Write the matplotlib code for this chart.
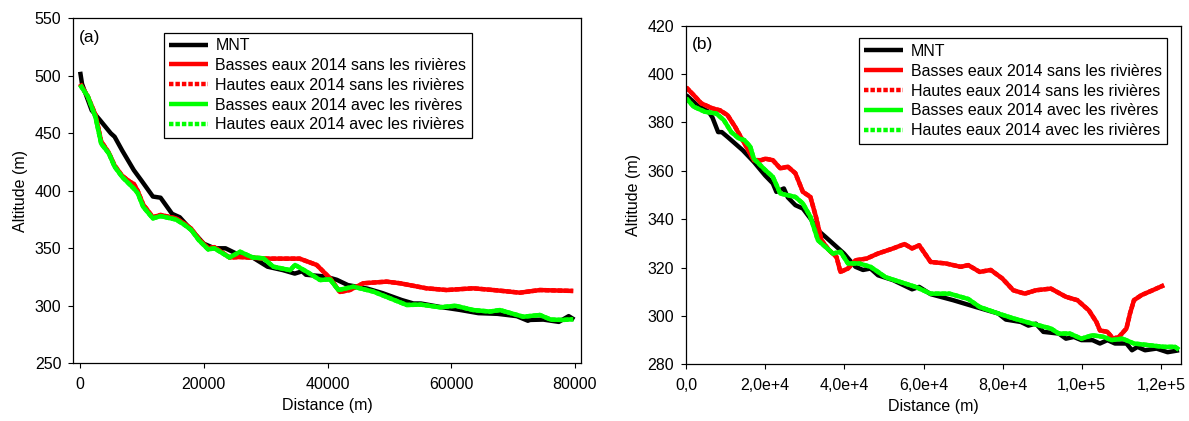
import matplotlib
matplotlib.use("Agg")
import matplotlib.pyplot as plt
from matplotlib.ticker import FixedLocator, FixedFormatter

plt.rcParams['font.family'] = ['Liberation Sans', 'DejaVu Sans']
plt.rcParams['font.size'] = 11.5

# ---------------- Panel (a) data ----------------
a_mnt_x = [0, 300, 1860, 3200, 4950, 5570, 6800, 8670, 9900, 11760, 13000, 14860, 16100, 17960,
           20000, 21700, 23500, 25400, 27900, 30300, 32800, 34700, 35900, 36500, 39600, 41500,
           43300, 46400, 48900, 52000, 53900, 55100, 58200, 61300, 64400, 67500, 70600, 72400,
           72730, 74900, 77400, 79000, 79900]
a_mnt_y = [503.5, 493, 470, 461.5, 450, 447, 435, 418, 409, 395, 394, 380, 377, 366,
           354, 350, 350, 345, 342, 334, 331, 328, 330, 327, 325.5, 322.6,
           318, 315, 311, 305, 302, 302, 299, 296.5, 293.6, 293, 291, 287,
           287.7, 288, 286, 291, 288]

a_bs_x = [0, 1240, 2480, 3400, 4640, 5570, 6800, 8000, 8670, 9300, 10200, 11760, 13000, 15500,
          16700, 17960, 19200, 20700, 21700, 24150, 25860, 27200, 30300, 35500, 38250, 40400,
          42000, 43600, 45800, 49550, 51700, 56000, 59250, 63550, 66800, 71100, 74340, 79730]
a_bs_y = [493, 482, 466, 443, 433, 422, 413, 408, 406, 400, 388, 377, 379, 376,
          372, 367, 358, 350, 351, 342, 342.4, 342, 341, 341, 335.5, 324,
          312, 313.7, 319.6, 321, 319.6, 315.2, 313.7, 315.2, 313.7, 311.4, 313.7, 312.9]

a_hs_x = list(a_bs_x)
a_hs_y = list(a_bs_y)

a_ba_x = [0, 1240, 2480, 3400, 4640, 5570, 6800, 8670, 9300, 10200, 11760, 13000, 15500, 16700,
          17960, 19200, 20700, 21700, 24150, 25860, 27900, 29630, 31250, 33940, 34750, 36630,
          38790, 40400, 41750, 44190, 47420, 52800, 55100, 58190, 60700, 63570, 66250, 67880,
          71650, 74340, 76100, 78110, 79730]
a_ba_y = [492, 482, 464, 441, 432.5, 421, 412, 402, 398, 386, 376, 378, 375, 371,
          366, 357, 349, 350, 342, 347, 342, 341.3, 334, 331, 335.5, 329.7,
          322.4, 323, 313.7, 316.6, 312.3, 300.7, 301, 298.7, 300, 296.3, 295, 296.3,
          290.5, 292, 288, 287.7, 288.3]

a_ha_x = list(a_ba_x)
a_ha_y = list(a_ba_y)

# ---------------- Panel (b) data ----------------
b_mnt_x = [0, 2850, 5700, 6650, 8080, 9000, 10460, 14300, 17100, 20000, 21900, 22800, 24700,
           25700, 27600, 29500, 31400, 33300, 35200, 38000, 39900, 42800, 44700, 46600, 48500,
           52300, 57100, 58900, 61800, 67500, 73200, 78900, 80800, 84600, 86500, 88400, 90300,
           94200, 96000, 98000, 99900, 102700, 104600, 106500, 108400, 111300, 112700, 114100,
           116000, 118900, 121700, 124600]
b_mnt_y = [391.3, 387, 384.4, 382, 376, 376, 374, 368.5, 363.7, 358, 354.8, 351.3, 352.7,
           349, 345.8, 344.4, 340.3, 335.4, 332.7, 328.6, 325.8, 320.3, 319, 319.6, 316.8,
           314.8, 311, 312, 309, 306.5, 303.7, 301, 298.5, 297.5, 296, 296.8, 293.4,
           292.7, 290.6, 291.3, 290, 290, 288.6, 290, 288.6, 288.6, 285.8, 287.2,
           285.8, 286.5, 285, 285.8]

b_bs_x = [0, 1900, 3800, 6650, 8560, 10460, 12360, 13800, 15200, 17100, 19000, 20000, 21900,
          23800, 25700, 27600, 29500, 31400, 32800, 34200, 36100, 38000, 39000, 40900, 42800,
          45600, 48500, 52300, 55200, 57100, 58900, 61800, 65600, 69400, 71300, 74200, 77000,
          79900, 82700, 85600, 88400, 92200, 96000, 98900, 101800, 103700, 104600, 106500,
          107900, 109400, 111300, 112200, 113200, 115100, 117900, 120800]
b_bs_y = [394.5, 391.3, 387.9, 385.8, 385, 383, 378.2, 374, 370, 364.4, 364.4, 365, 364.4,
          361, 361.7, 359, 351.3, 349.2, 341, 331.3, 327.2, 324.4, 318.2, 319.6, 323,
          323.7, 325.8, 327.9, 329.7, 327.9, 329.2, 322.3, 321.7, 320.3, 321, 318.2, 319,
          315.5, 310.6, 309.2, 310.6, 311.3, 307.9, 306.5, 302.3, 297.5, 294, 293.4,
          290.6, 291.3, 294.8, 301, 306.5, 308.6, 310.6, 312.7]

b_hs_x = list(b_bs_x)
b_hs_y = list(b_bs_y)

b_ba_x = [0, 1900, 4750, 7600, 9500, 11400, 13300, 14700, 16200, 17100, 20000, 21900, 23800,
          27600, 29500, 31400, 33300, 37100, 39000, 40900, 43700, 46600, 48500, 50400, 54200,
          58000, 59900, 61800, 66600, 71300, 74200, 78900, 82700, 87500, 89400, 92200, 94200,
          97000, 99900, 102700, 105600, 107500, 110300, 113200, 117000, 120800, 123600, 124600]
b_ba_y = [390, 386.5, 384.4, 383.7, 381, 376, 373.4, 372.7, 370, 365, 360.3, 357.5, 350.6,
          349.2, 346.5, 341, 331.3, 325.8, 326.5, 321.7, 321.7, 320.3, 318.2, 316, 314,
          312, 310.6, 309.2, 309.2, 307, 303.7, 301, 299, 296.8, 296, 294.8, 292.7,
          292.7, 290.6, 292, 291.3, 290, 290.6, 288.6, 287.9, 287.2, 287.2, 286]

b_ha_x = list(b_ba_x)
b_ha_y = list(b_ba_y)

labels = ["MNT",
          "Basses eaux 2014 sans les rivières",
          "Hautes eaux 2014 sans les rivières",
          "Basses eaux 2014 avec les rivères",
          "Hautes eaux 2014 avec les rivières"]

a_xticks = [0, 20000, 40000, 60000, 80000]
a_xticklabels = ["0", "20000", "40000", "60000", "80000"]
a_yticks = [250, 300, 350, 400, 450, 500, 550]

b_xticks = [0, 20000, 40000, 60000, 80000, 100000, 120000]
b_xticklabels = ["0,0", "2,0e+4", "4,0e+4", "6,0e+4", "8,0e+4", "1,0e+5", "1,2e+5"]
b_yticks = [280, 300, 320, 340, 360, 380, 400, 420]

BLACK = "#000000"
RED = "#ff0000"
GREEN = "#00ff00"
LW = 3.2
DOT = (1.0, 0.45)
FS = 11.5

fig = plt.figure(figsize=(11.89, 4.21), dpi=100)
ax_a = fig.add_axes([0.0617, 0.1371, 0.4887 - 0.0617, 0.9565 - 0.1371])
ax_b = fig.add_axes([0.5771, 0.1347, 0.9933 - 0.5771, 0.9390 - 0.1347])


def draw(ax, series, xlim, ylim, xticks, xticklabels, yticks, tag, leg_anchor):
    handles = []
    for (x, y, color, dotted), lab in zip(series, labels):
        if dotted:
            h, = ax.plot(x, y, color=color, lw=LW, dashes=DOT, dash_capstyle='butt',
                         solid_joinstyle='round', label=lab)
        else:
            h, = ax.plot(x, y, color=color, lw=LW, solid_capstyle='butt',
                         solid_joinstyle='round', label=lab)
        handles.append(h)
    ax.set_xlim(*xlim)
    ax.set_ylim(*ylim)
    ax.xaxis.set_major_locator(FixedLocator(xticks))
    ax.xaxis.set_major_formatter(FixedFormatter(xticklabels))
    ax.set_yticks(yticks)
    ax.tick_params(direction='out', length=3.6, width=0.8, top=False, right=False,
                   labelsize=FS)
    ax.tick_params(axis='x', pad=6.5)
    ax.tick_params(axis='y', pad=5)
    for s in ax.spines.values():
        s.set_linewidth(0.9)
        s.set_color('black')
    ax.set_xlabel("Distance (m)", fontsize=FS, labelpad=4)
    ax.set_ylabel("Altitude (m)", fontsize=FS, labelpad=5)
    ax.text(0.011, 0.943, tag, transform=ax.transAxes, fontsize=12.5, va='center', ha='left')
    leg = ax.legend(handles=handles, loc='upper left', bbox_to_anchor=leg_anchor,
                    borderaxespad=0, frameon=True, fancybox=False, edgecolor='black',
                    framealpha=1, fontsize=FS, handlelength=2.4, handletextpad=0.5,
                    labelspacing=0.3, borderpad=0.35)
    leg.get_frame().set_linewidth(0.9)


draw(ax_a,
     [(a_mnt_x, a_mnt_y, BLACK, False),
      (a_bs_x, a_bs_y, RED, False),
      (a_hs_x, a_hs_y, RED, True),
      (a_ba_x, a_ba_y, GREEN, False),
      (a_ha_x, a_ha_y, GREEN, True)],
     (-1100, 81000), (250, 550), a_xticks, a_xticklabels, a_yticks, "(a)", (0.1777, 0.9586))

draw(ax_b,
     [(b_mnt_x, b_mnt_y, BLACK, False),
      (b_bs_x, b_bs_y, RED, False),
      (b_hs_x, b_hs_y, RED, True),
      (b_ba_x, b_ba_y, GREEN, False),
      (b_ha_x, b_ha_y, GREEN, True)],
     (0, 125100), (280, 420), b_xticks, b_xticklabels, b_yticks, "(b)", (0.3486, 0.9625))

fig.savefig("out.png", dpi=100)
